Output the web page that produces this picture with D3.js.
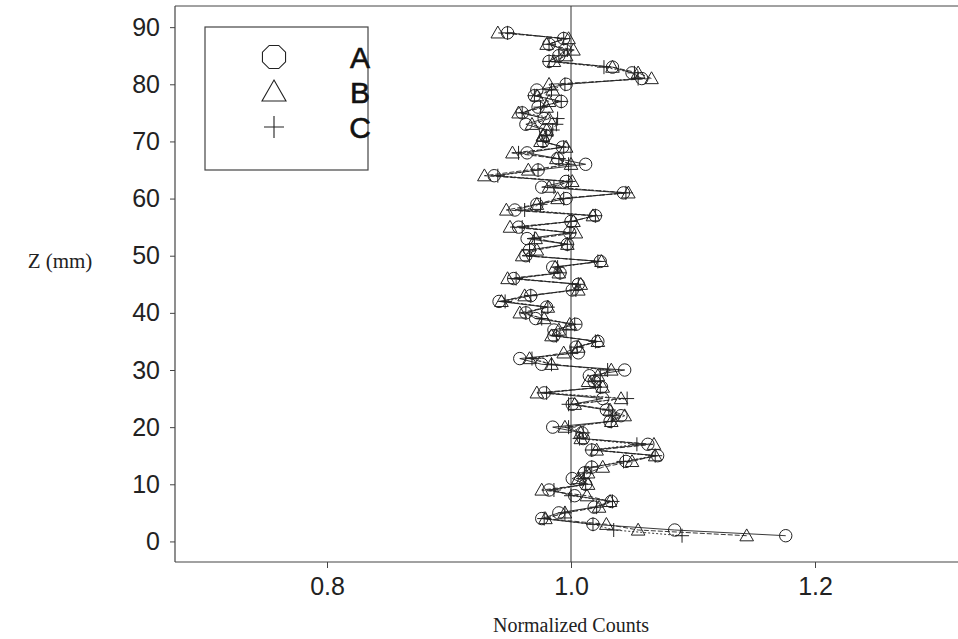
<!DOCTYPE html>
<html>
<head>
<meta charset="utf-8">
<script src="https://cdn.jsdelivr.net/npm/d3@7"></script>
<style>
  html, body { margin: 0; padding: 0; background: #fff; }
  svg { display: block; }
</style>
</head>
<body>
<svg id="chart" width="958" height="639"></svg>
<script>
// ---- data ----
const zValues = d3.range(1, 90);
const seriesNames = ["A", "B", "C"];
const seriesA = [1.176,1.085,1.018,0.976,0.990,1.019,1.033,1.003,0.982,1.012,
  1.001,1.011,1.017,1.045,1.071,1.017,1.063,1.010,1.009,0.985,
  1.032,1.041,1.029,1.001,1.026,0.978,1.025,1.019,1.015,1.044,
  0.976,0.958,1.006,1.004,1.022,0.986,0.986,1.004,0.971,0.963,
  0.980,0.941,0.967,1.001,1.006,0.953,0.991,0.985,1.024,0.963,
  0.966,0.997,0.964,0.999,0.957,1.000,1.020,0.954,0.972,0.996,
  1.043,0.976,0.996,0.937,0.973,1.012,0.989,0.964,0.993,0.977,
  0.979,0.979,0.963,0.978,0.960,0.973,0.992,0.970,0.972,0.996,
  1.058,1.050,1.034,0.982,0.990,0.995,0.982,0.994,0.948];
const seriesB = [1.144,1.055,1.029,0.979,0.995,1.023,1.032,1.013,0.976,1.014,
  1.006,1.014,1.026,1.050,1.069,1.021,1.068,1.008,1.008,0.995,
  1.033,1.044,1.032,1.003,1.041,0.972,1.026,1.014,1.022,1.033,
  0.984,0.966,0.994,1.006,1.022,0.984,0.990,0.999,0.978,0.958,
  0.981,0.943,0.962,1.006,1.008,0.948,0.990,0.987,1.025,0.960,
  0.972,0.997,0.971,1.004,0.950,1.002,1.018,0.947,0.972,0.989,
  1.047,0.982,1.001,0.929,0.965,1.000,0.988,0.952,0.996,0.975,
  0.977,0.980,0.968,0.982,0.957,0.980,0.982,0.972,0.985,0.982,
  1.066,1.055,1.034,0.986,0.996,1.002,0.980,0.998,0.940];
const seriesC = [1.091,1.035,1.018,0.978,0.995,1.021,1.034,1.000,0.986,1.012,
  1.010,1.011,1.017,1.043,1.069,1.017,1.054,1.007,1.010,0.998,
  1.033,1.034,1.031,0.998,1.046,0.980,1.024,1.019,1.024,1.030,
  0.984,0.968,1.000,1.005,1.020,0.988,0.996,1.003,0.976,0.963,
  0.981,0.946,0.967,1.004,1.006,0.955,0.991,0.989,1.022,0.966,
  0.966,0.997,0.970,0.999,0.960,1.000,1.020,0.962,0.975,0.994,
  1.045,0.986,0.998,0.940,0.973,0.998,0.990,0.957,0.994,0.977,
  0.980,0.985,0.988,0.989,0.960,0.975,0.992,0.970,0.984,0.995,
  1.055,1.052,1.027,0.982,0.990,0.997,0.982,0.994,0.948];
const xTicks = [0.8, 1.0, 1.2];
const yTicks = [0, 10, 20, 30, 40, 50, 60, 70, 80, 90];
const referenceValue = 1.0;

// ---- layout ----
const svg = d3.select("#chart");
const plotLeft = 175, plotRight = 958, plotTop = 6, plotBottom = 562;
const x = d3.scaleLinear().domain([0.6754, 1.3172]).range([plotLeft, plotRight]);
const y = d3.scaleLinear().domain([-3.6, 93.7]).range([plotBottom, plotTop]);

const axisColor = "#444";

// frame: top line
svg.append("line").attr("x1", plotLeft).attr("x2", plotRight).attr("y1", plotTop).attr("y2", plotTop)
  .attr("stroke", axisColor).attr("stroke-width", 1);

// axes
const xAxis = svg.append("g").attr("transform", `translate(0,${plotBottom})`)
  .call(d3.axisBottom(x).tickValues(xTicks).tickFormat(d3.format(".1f")).tickSizeOuter(0).tickSize(6).tickPadding(9));
const yAxis = svg.append("g").attr("transform", `translate(${plotLeft},0)`)
  .call(d3.axisLeft(y).tickValues(yTicks).tickSizeOuter(0).tickSize(5).tickPadding(10));
[xAxis, yAxis].forEach(g => {
  g.select(".domain").attr("stroke", axisColor).attr("stroke-width", 1.2);
  g.selectAll(".tick line").attr("stroke", axisColor);
  g.selectAll(".tick text").attr("fill", "#222")
    .style("font-family", "'Liberation Sans', Arial, sans-serif").style("font-size", "25px");
});
xAxis.select(".domain").attr("d", `M${plotLeft},0H${plotRight}`);
yAxis.select(".domain").attr("d", `M0,${plotTop}V${plotBottom}`);

// axis titles
svg.append("text").attr("x", x(referenceValue)).attr("y", 632)
  .attr("text-anchor", "middle").attr("fill", "#222")
  .style("font-family", "'Liberation Serif', 'Times New Roman', serif").style("font-size", "20px")
  .text("Normalized Counts");
svg.append("text").attr("x", 60).attr("y", 268)
  .attr("text-anchor", "middle").attr("fill", "#222")
  .style("font-family", "'Liberation Serif', 'Times New Roman', serif").style("font-size", "21px")
  .text("Z (mm)");

// reference line at 1.0
svg.append("line").attr("x1", x(referenceValue)).attr("x2", x(referenceValue))
  .attr("y1", plotTop).attr("y2", plotBottom)
  .attr("stroke", "#333").attr("stroke-width", 1);

// series
const allSeries = [
  { name: "A", values: seriesA, shape: "circle", dash: null },
  { name: "B", values: seriesB, shape: "triangle", dash: "5,2" },
  { name: "C", values: seriesC, shape: "plus", dash: "2,2" }
];

const lineGen = d3.line().x(d => x(d.v)).y(d => y(d.z));

allSeries.forEach(s => {
  const pts = zValues.map((z, i) => ({ z, v: s.values[i] }));
  svg.append("path").datum(pts).attr("d", lineGen)
    .attr("fill", "none").attr("stroke", "#222").attr("stroke-width", 0.9)
    .attr("stroke-dasharray", s.dash);
});

const triPath = (r) => `M0,${-r}L${r},${r * 0.75}L${-r},${r * 0.75}Z`;

allSeries.forEach(s => {
  const pts = zValues.map((z, i) => ({ z, v: s.values[i] }));
  const g = svg.append("g");
  const m = g.selectAll("g").data(pts).join("g")
    .attr("transform", d => `translate(${x(d.v)},${y(d.z)})`);
  if (s.shape === "circle") {
    m.append("circle").attr("r", 6.2).attr("fill", "none").attr("stroke", "#222").attr("stroke-width", 1);
  } else if (s.shape === "triangle") {
    m.append("path").attr("d", triPath(6.8)).attr("fill", "none").attr("stroke", "#222").attr("stroke-width", 1);
  } else {
    m.append("path").attr("d", "M-7,0H7M0,-7V7").attr("fill", "none").attr("stroke", "#222").attr("stroke-width", 1);
  }
});

// legend
const legend = svg.append("g");
legend.append("rect").attr("x", 205).attr("y", 27).attr("width", 163).attr("height", 143)
  .attr("fill", "#fff").attr("stroke", "#444").attr("stroke-width", 1.2);
const octagon = (r) => {
  const pts = d3.range(8).map(k => {
    const a = Math.PI / 8 + k * Math.PI / 4;
    return [r * Math.cos(a), r * Math.sin(a)];
  });
  return "M" + pts.map(p => p.join(",")).join("L") + "Z";
};
const legendRows = [
  { name: seriesNames[0], shape: "circle", cy: 57 },
  { name: seriesNames[1], shape: "triangle", cy: 92 },
  { name: seriesNames[2], shape: "plus", cy: 127 }
];
legendRows.forEach(r => {
  const g = legend.append("g").attr("transform", `translate(274,${r.cy})`);
  let d;
  if (r.shape === "circle") d = octagon(12.5);
  else if (r.shape === "triangle") d = triPath(12);
  else d = "M-10,0H10M0,-11V11";
  g.append("path").attr("d", d).attr("fill", "none").attr("stroke", "#222").attr("stroke-width", 1.1);
  legend.append("text").attr("x", 360).attr("y", r.cy + 11).attr("text-anchor", "middle")
    .attr("fill", "#111").attr("stroke", "#111").attr("stroke-width", 0.6)
    .style("font-family", "'Liberation Sans', Arial, sans-serif").style("font-size", "30px")
    .text(r.name);
});
</script>
</body>
</html>
